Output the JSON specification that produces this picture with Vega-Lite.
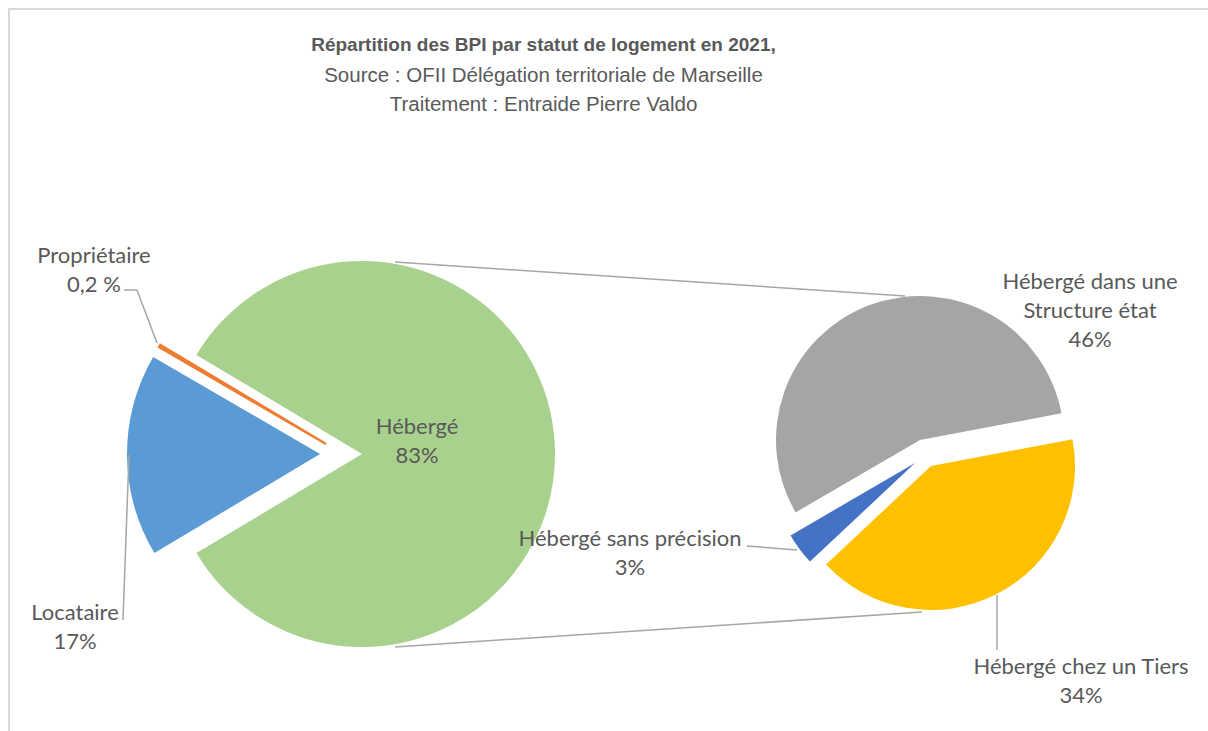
{
  "$schema": "https://vega.github.io/schema/vega-lite/v6.json",
  "width": 1208,
  "height": 731,
  "autosize": {"type": "fit", "contains": "padding"},
  "padding": {"left": 9, "top": 9, "right": 0, "bottom": 0},
  "background": "white",
  "view": {"stroke": "#D9D9D9", "strokeWidth": 2, "strokeDash": [1199, 1921, 740, 10]},
  "config": {
    "text": {"font": "Lato", "fontSize": 22, "fill": "#595959"}
  },
  "title": {
    "text": "Répartition des BPI par statut de logement en 2021,",
    "subtitle": ["Source : OFII Délégation territoriale de Marseille", "Traitement : Entraide Pierre Valdo"],
    "anchor": "middle",
    "dx": -65,
    "offset": -106,
    "font": "Liberation Sans",
    "fontSize": 19,
    "fontWeight": "bold",
    "color": "#595959",
    "subtitleFont": "Liberation Sans",
    "subtitleFontSize": 20.5,
    "subtitleColor": "#595959",
    "subtitleLineHeight": 29,
    "subtitlePadding": 11
  },
  "data": {
    "values": [
      {"pie": "principal", "nom": "Locataire", "valeur": 17, "pct": "17%"},
      {"pie": "principal", "nom": "Propriétaire", "valeur": 0.2, "pct": "0,2 %"},
      {"pie": "principal", "nom": "Hébergé", "valeur": 83, "pct": "83%"},
      {"pie": "secondaire", "nom": "Hébergé dans une Structure état", "valeur": 46, "pct": "46%"},
      {"pie": "secondaire", "nom": "Hébergé chez un Tiers", "valeur": 34, "pct": "34%"},
      {"pie": "secondaire", "nom": "Hébergé sans précision", "valeur": 3, "pct": "3%"}
    ]
  },
  "transform": [
    {"calculate": "replace(datum.nom, 'une ', 'une\\n') + '\\n' + datum.pct", "as": "etiquette"}
  ],
  "encoding": {
    "x": {"field": "pie", "type": "nominal", "scale": {"type": "point", "domain": ["principal", "secondaire"], "range": [353, 911], "padding": 0}, "axis": null},
    "y": {"field": "pie", "type": "nominal", "scale": {"type": "point", "domain": ["principal", "secondaire"], "range": [445, 431], "padding": 0}, "axis": null}
  },
  "layer": [
    {
      "transform": [
        {"filter": "datum.pie === 'principal'"},
        {"stack": "valeur", "groupby": ["pie"], "offset": "normalize", "as": ["t0", "t1"]}
      ],
      "encoding": {
        "theta": {"field": "t0", "type": "quantitative", "stack": null, "scale": {"domain": [0, 1], "range": [4.1731, 10.4563]}},
        "theta2": {"field": "t1"},
        "color": {"field": "nom", "type": "nominal", "legend": null, "scale": {"domain": ["Locataire", "Propriétaire", "Hébergé", "Hébergé dans une Structure état", "Hébergé chez un Tiers", "Hébergé sans précision"], "range": ["#5B9BD5", "#ED7D31", "#A9D18E", "#A5A5A5", "#FFC000", "#4472C4"]}}
      },
      "layer": [
        {"transform": [{"filter": "datum.nom === 'Hébergé'"}], "mark": {"type": "arc", "radius": 193}},
        {"transform": [{"filter": "datum.nom === 'Locataire'"}], "mark": {"type": "arc", "radius": 193, "xOffset": -42}},
        {"transform": [{"filter": "datum.nom === 'Propriétaire'"}], "mark": {"type": "arc", "radius": 193, "xOffset": -36, "yOffset": -10, "stroke": "#ED7D31", "strokeWidth": 2.5}}
      ]
    },
    {
      "transform": [
        {"filter": "datum.pie === 'secondaire'"},
        {"stack": "valeur", "groupby": ["pie"], "offset": "normalize", "as": ["t0", "t1"]}
      ],
      "encoding": {
        "theta": {"field": "t0", "type": "quantitative", "stack": null, "scale": {"domain": [0, 1], "range": [4.1853, 10.4685]}},
        "theta2": {"field": "t1"},
        "color": {"field": "nom", "type": "nominal", "legend": null}
      },
      "layer": [
        {"transform": [{"filter": "datum.nom === 'Hébergé dans une Structure état'"}], "mark": {"type": "arc", "radius": 144}},
        {"transform": [{"filter": "datum.nom === 'Hébergé chez un Tiers'"}], "mark": {"type": "arc", "radius": 144, "xOffset": 11, "yOffset": 26}},
        {"transform": [{"filter": "datum.nom === 'Hébergé sans précision'"}], "mark": {"type": "arc", "radius": 144, "xOffset": -5, "yOffset": 23}}
      ]
    },
    {
      "transform": [{"filter": "datum.nom === 'Hébergé'"}],
      "mark": {"type": "rule", "color": "#A6A6A6", "strokeWidth": 1.5, "xOffset": 33, "yOffset": -192, "x2Offset": -15, "y2Offset": -144},
      "encoding": {"x2": {"datum": "secondaire"}, "y2": {"datum": "secondaire"}}
    },
    {
      "transform": [{"filter": "datum.nom === 'Hébergé'"}],
      "mark": {"type": "rule", "color": "#A6A6A6", "strokeWidth": 1.5, "xOffset": 33, "yOffset": 193, "x2Offset": 2, "y2Offset": 172},
      "encoding": {"x2": {"datum": "secondaire"}, "y2": {"datum": "secondaire"}}
    },
    {
      "transform": [{"filter": "datum.nom === 'Propriétaire'"}],
      "mark": {"type": "rule", "color": "#A6A6A6", "strokeWidth": 1.5, "xOffset": -238, "yOffset": -164, "x2Offset": -225, "y2Offset": -164},
      "encoding": {"x2": {"field": "pie"}, "y2": {"field": "pie"}}
    },
    {
      "transform": [{"filter": "datum.nom === 'Propriétaire'"}],
      "mark": {"type": "rule", "color": "#A6A6A6", "strokeWidth": 1.5, "xOffset": -225, "yOffset": -164, "x2Offset": -205, "y2Offset": -111},
      "encoding": {"x2": {"field": "pie"}, "y2": {"field": "pie"}}
    },
    {
      "transform": [{"filter": "datum.nom === 'Locataire'"}],
      "mark": {"type": "rule", "color": "#A6A6A6", "strokeWidth": 1.5, "xOffset": -233, "yOffset": 1, "x2Offset": -239, "y2Offset": 166},
      "encoding": {"x2": {"field": "pie"}, "y2": {"field": "pie"}}
    },
    {
      "transform": [{"filter": "datum.nom === 'Hébergé sans précision'"}],
      "mark": {"type": "rule", "color": "#A6A6A6", "strokeWidth": 1.5, "xOffset": -173, "yOffset": 106, "x2Offset": -123, "y2Offset": 110},
      "encoding": {"x2": {"field": "pie"}, "y2": {"field": "pie"}}
    },
    {
      "transform": [{"filter": "datum.nom === 'Hébergé chez un Tiers'"}],
      "mark": {"type": "rule", "color": "#A6A6A6", "strokeWidth": 1.5, "xOffset": 77, "yOffset": 155, "x2Offset": 77, "y2Offset": 210},
      "encoding": {"x2": {"field": "pie"}, "y2": {"field": "pie"}}
    },
    {
      "transform": [{"filter": "datum.nom === 'Hébergé'"}],
      "mark": {"type": "text", "align": "center", "baseline": "middle", "lineBreak": "\n", "lineHeight": 29, "dx": 55, "dy": -27},
      "encoding": {"text": {"field": "etiquette"}}
    },
    {
      "transform": [{"filter": "datum.nom === 'Propriétaire'"}],
      "mark": {"type": "text", "align": "center", "baseline": "middle", "lineBreak": "\n", "lineHeight": 29, "dx": -268, "dy": -198},
      "encoding": {"text": {"field": "etiquette"}}
    },
    {
      "transform": [{"filter": "datum.nom === 'Locataire'"}],
      "mark": {"type": "text", "align": "center", "baseline": "middle", "lineBreak": "\n", "lineHeight": 29, "dx": -287, "dy": 159},
      "encoding": {"text": {"field": "etiquette"}}
    },
    {
      "transform": [{"filter": "datum.nom === 'Hébergé dans une Structure état'"}],
      "mark": {"type": "text", "align": "center", "baseline": "middle", "lineBreak": "\n", "lineHeight": 29, "dx": 170, "dy": -158},
      "encoding": {"text": {"field": "etiquette"}}
    },
    {
      "transform": [{"filter": "datum.nom === 'Hébergé sans précision'"}],
      "mark": {"type": "text", "align": "center", "baseline": "middle", "lineBreak": "\n", "lineHeight": 29, "dx": -290, "dy": 99},
      "encoding": {"text": {"field": "etiquette"}}
    },
    {
      "transform": [{"filter": "datum.nom === 'Hébergé chez un Tiers'"}],
      "mark": {"type": "text", "align": "center", "baseline": "middle", "lineBreak": "\n", "lineHeight": 29, "dx": 161, "dy": 227},
      "encoding": {"text": {"field": "etiquette"}}
    }
  ],
  "resolve": {"scale": {"theta": "independent"}}
}
